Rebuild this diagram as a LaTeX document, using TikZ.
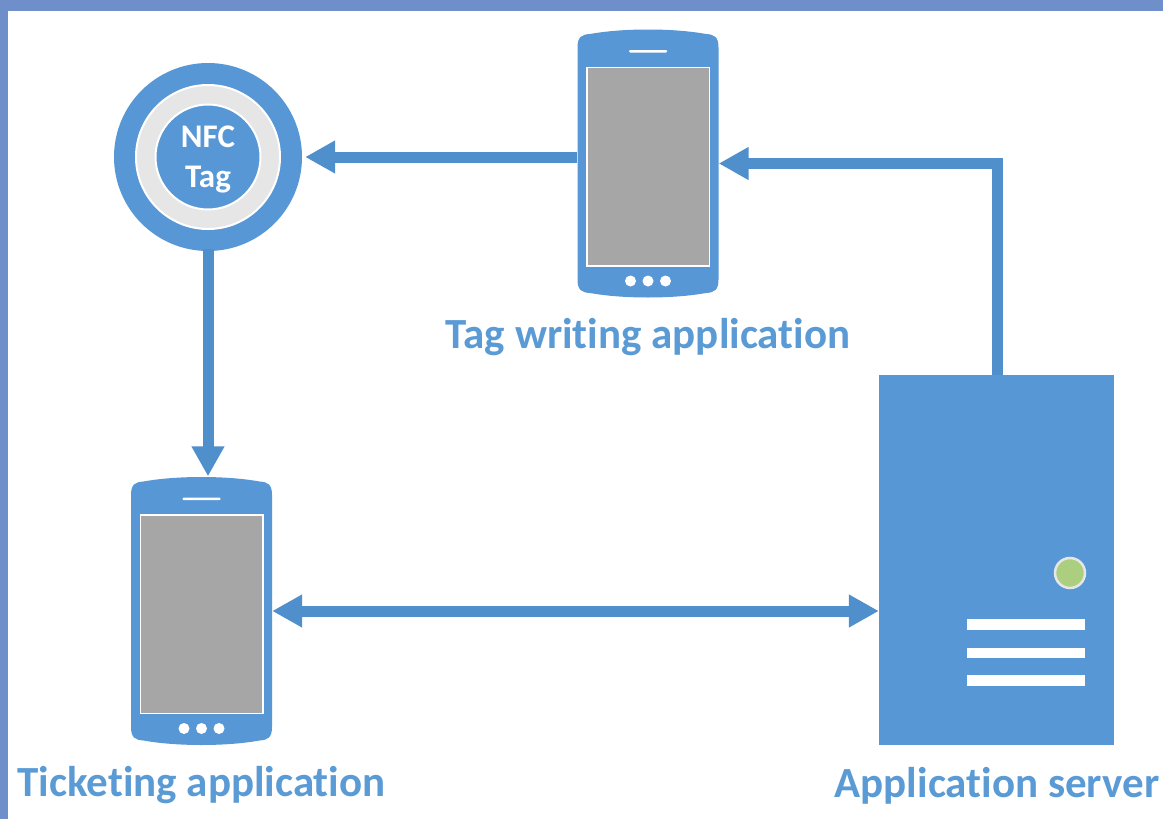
\documentclass[tikz,border=0pt]{standalone}
\usepackage{fontspec}
\setmainfont[Ligatures=NoCommon]{Carlito}
\usetikzlibrary{arrows.meta,calc}
\definecolor{frameblue}{HTML}{6F8FCB}
\definecolor{mainblue}{HTML}{5797D6}
\definecolor{arrowblue}{HTML}{4F8FCC}
\definecolor{textblue}{HTML}{5B9BD5}
\definecolor{screengray}{HTML}{A6A6A6}
\definecolor{ringgray}{HTML}{E7E6E6}
\definecolor{ledgreen}{HTML}{ABCF7F}
\tikzset{
  x=1pt,y=-1pt,
  label text/.style={text=textblue,font=\fontsize{43}{46}\selectfont\bfseries,inner sep=0pt},
  link/.style={draw=arrowblue,line width=11pt,line join=miter,-{Triangle[length=30pt,width=31pt]}},
  link both/.style={draw=arrowblue,line width=11pt,{Triangle[length=30pt,width=31pt]}-{Triangle[length=30pt,width=31pt]}},
  anchor box/.style={rectangle,inner sep=0pt,minimum width=141pt,minimum height=269pt},
  whitebar/.style={fill=white,draw=none},
}
\newcommand{\phonebody}[2]{%
  \node[anchor box] (#1) at (#2) {};
  \begin{scope}[shift={(#2)}]
    \fill[mainblue] (-70.5,-116) .. controls (-70.5,-127) and (-66,-129) .. (-58,-129.5)
      .. controls (-25,-135.5) and (25,-135.5) .. (58,-129.5)
      .. controls (66,-129) and (70.5,-127) .. (70.5,-116)
      -- (70.5,116) .. controls (70.5,127) and (66,129) .. (58,129.5)
      .. controls (25,135.5) and (-25,135.5) .. (-58,129.5)
      .. controls (-66,129) and (-70.5,127) .. (-70.5,116) -- cycle;
    \fill[white] (-62,-97) rectangle (62,103);
    \fill[screengray] (-60.5,-95.5) rectangle (60.5,101.5);
    \fill[white,rounded corners=1pt] (-19,-113.5) rectangle (19,-111);
    \foreach \dx in {-17.5,0,17.5} \fill[white] (\dx,117.5) circle[radius=5.5];
  \end{scope}}
\begin{document}
\begin{tikzpicture}
\useasboundingbox (0,0) rectangle (1163,819);
\fill[white] (0,0) rectangle (1163,819);
\fill[frameblue] (0,0) rectangle (1163,11);
\fill[frameblue] (0,0) rectangle (8,819);

% server
\node[rectangle,fill=mainblue,inner sep=0pt,minimum width=235pt,minimum height=370pt] (server) at (996.5,560) {};
\node[circle,fill=ledgreen,draw=ringgray,line width=2.5pt,inner sep=0pt,minimum size=30pt] (led) at (1070,573) {};
\fill[whitebar] (967,619) rectangle (1085,630);
\fill[whitebar] (967,647.5) rectangle (1085,658);
\fill[whitebar] (967,675) rectangle (1085,686);

% phones
\phonebody{phoneT}{648,163.5}
\phonebody{phoneB}{201.5,611}

% NFC tag
\node[circle,fill=mainblue,inner sep=0pt,minimum size=188pt] (tagouter) at (208,157) {};
\node[circle,fill=ringgray,draw=white,line width=2pt,inner sep=0pt,minimum size=144pt] (tagring) at (208,157) {};
\node[circle,fill=mainblue,draw=white,line width=2pt,inner sep=0pt,minimum size=105pt] (tag) at (208,157) {};
\node[text=white,align=center,inner sep=0pt,font=\fontsize{33}{40}\selectfont\bfseries] (tagtext) at (208,159) {NFC\\Tag};

% connectors
\draw[link,shorten >=3pt] (phoneT.west |- tagouter.east) -- (tagouter.east);
\draw[link] (server.north -| 997,0) -- (997,163.5) -- (phoneT.east);
\draw[link,shorten <=-2pt] (tagouter.south) -- (phoneB.north -| tagouter.south);
\draw[link both] (phoneB.east) -- (server.west |- phoneB.east);

% labels
\node[label text] (lblT) at (648,337.5) {Tag writing application};
\node[label text] (lblB) at (201.5,785.5) {Ticketing application};
\node[label text] (lblS) at (997,785.5) {Application server};
\end{tikzpicture}
\end{document}
